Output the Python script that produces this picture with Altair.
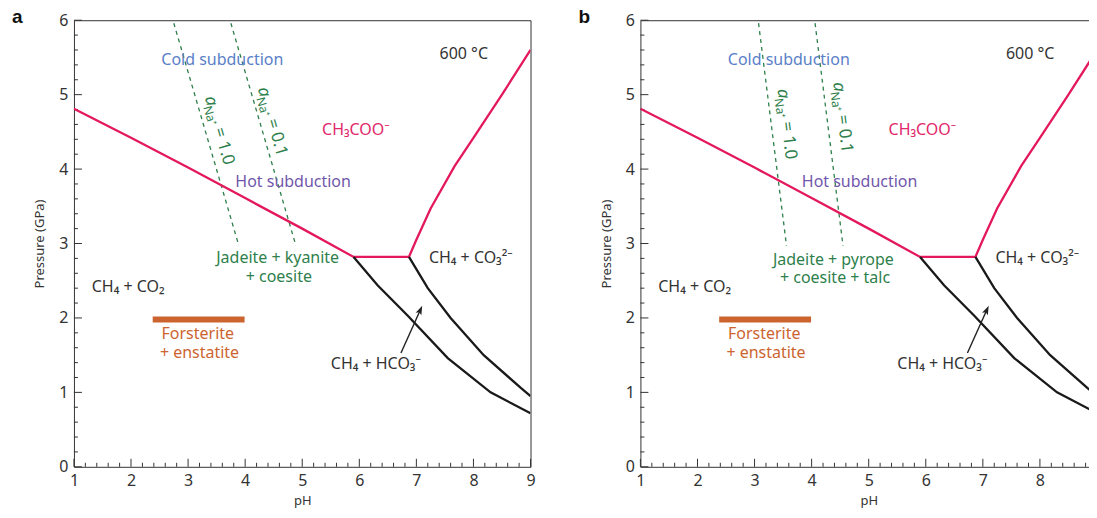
import altair as alt
import pandas as pd

FONT = "Noto Sans"
INK = "#333333"
RED = "#e3195c"
RED_TXT = "#e0286a"
GREEN = "#2e7f4c"
ORANGE = "#cc6430"
BLUE = "#5a80c8"
PURPLE = "#7157ab"
W, H = 457, 447

# ---------------- data ----------------
# red boundary of the CH3COO- field (continuous path)
red_ph = [1.0, 2.0, 3.0, 4.0, 5.0, 5.9, 6.87, 7.0, 7.25, 7.67, 8.0, 8.5, 9.0]
red_p = [4.81, 4.42, 4.02, 3.61, 3.20, 2.82, 2.82, 3.05, 3.47, 4.04, 4.42, 5.0, 5.6]
# black boundaries of the CH4 + HCO3- field
blk1_ph = [5.9, 6.32, 6.85, 7.55, 8.3, 9.0]
blk1_p = [2.82, 2.44, 2.03, 1.46, 1.0, 0.72]
blk2_ph = [6.87, 7.2, 7.6, 8.18, 8.83, 9.0]
blk2_p = [2.82, 2.4, 2.0, 1.5, 1.06, 0.95]
# forsterite + enstatite bar
fo_ph = [2.38, 3.99]
fo_p = 1.98
# arrow pointing into the CH4 + HCO3- field
arrow_ph = [6.73, 7.065]
arrow_p = [1.53, 2.10]
arrow_head = (7.065, 2.10)
# dashed a_Na+ isopleths (top, bottom) for each panel
dash_p = [5.96, 2.97]
dash_ph = {
    "a": {"1.0": [2.75, 3.89], "0.1": [3.75, 4.89]},
    "b": {"1.0": [3.07, 3.56], "0.1": [4.06, 4.55]},
}
# isopleth label anchors (pH, P) and rotation per panel
iso_lab = {
    "a": {"1.0": (3.29, 4.96), "0.1": (4.22, 5.08)},
    "b": {"1.0": (3.40, 5.07), "0.1": (4.38, 5.16)},
}
iso_angle = {"a": 74, "b": 83}
# mineral assemblage text per panel
minerals = {
    "a": [("Jadeite + kyanite", 4.57, 2.80), ("+ coesite", 4.59, 2.55)],
    "b": [("Jadeite + pyrope", 4.38, 2.78), ("+ coesite + talc", 4.41, 2.53)],
}
# common field labels: (text, pH, P, colour)
common = [
    ("Cold subduction", 3.60, 5.47, BLUE),
    ("Hot subduction", 4.84, 3.83, PURPLE),
    ("CH\u2083COO\u207b", 5.94, 4.52, RED_TXT),
    ("600 \u00b0C", 7.83, 5.54, INK),
    ("CH\u2084 + CO\u2082", 1.95, 2.42, INK),
    ("Forsterite", 3.17, 1.78, ORANGE),
    ("+ enstatite", 3.20, 1.53, ORANGE),
    ("CH\u2084 + HCO\u2083\u207b", 6.29, 1.38, INK),
]
co3_label = ("CH\u2084 + CO\u2083\u00b2\u207b", 7.22, 2.81)

x_major = [1, 2, 3, 4, 5, 6, 7, 8, 9]
y_major = [0, 1, 2, 3, 4, 5, 6]
x_minor = [round(1 + 0.2 * i, 1) for i in range(41) if i % 5]
y_minor = [round(0.2 * i, 1) for i in range(31) if i % 5]

# ---------------- encodings ----------------
XS = alt.Scale(domain=[1, 9], nice=False, zero=False)
YS = alt.Scale(domain=[0, 6], nice=False, zero=False)
XAX = alt.Axis(values=x_major, format="d", ticks=False, domain=False, grid=False,
               labelPadding=6, titlePadding=6, labelFlush=False)
YAX = alt.Axis(values=y_major, format="d", ticks=False, domain=False, grid=False,
               labelPadding=6, titlePadding=12, labelFlush=False)
X = alt.X("ph:Q", scale=XS, axis=XAX, title="pH")
Y = alt.Y("p:Q", scale=YS, axis=YAX, title="Pressure (GPa)")


def line(ph, p, color, width, dash=None):
    df = pd.DataFrame({"ph": ph, "p": p, "i": list(range(len(ph)))})
    kw = dict(color=color, strokeWidth=width, clip=True, strokeJoin="miter")
    if dash:
        kw["strokeDash"] = dash
    return alt.Chart(df).mark_line(**kw).encode(x=X, y=Y, order="i:Q")


def text(s, ph, p, color, size=16, align="center", **kw):
    df = pd.DataFrame({"ph": [ph], "p": [p], "t": [s]})
    return alt.Chart(df).mark_text(font=FONT, fontSize=size, color=color, align=align,
                                   baseline="middle", **kw).encode(x=X, y=Y, text="t:N")


def ticks_x(vals, length):
    df = pd.DataFrame({"ph": vals})
    return alt.Chart(df).mark_rule(color=INK, strokeWidth=1).encode(
        x=X, y=alt.value(H), y2=alt.value(H - length))


def ticks_y(vals, length):
    df = pd.DataFrame({"p": vals})
    return alt.Chart(df).mark_rule(color=INK, strokeWidth=1).encode(
        y=Y, x=alt.value(0), x2=alt.value(length))


def iso_label(ph, p, angle, value):
    df = pd.DataFrame({"ph": [ph], "p": [p]})
    base = dict(font=FONT, color=GREEN, align="left", baseline="alphabetic", angle=angle)
    a = alt.Chart(df).mark_text(fontSize=17, fontStyle="italic", text="a", **base).encode(x=X, y=Y)
    na = alt.Chart(df).mark_text(fontSize=12, text="Na\u207a", dx=9, dy=4, **base).encode(x=X, y=Y)
    eq = alt.Chart(df).mark_text(fontSize=17, text="= " + value, dx=33, dy=0, **base).encode(x=X, y=Y)
    return [a, na, eq]


def panel(tag):
    layers = [ticks_x(x_minor, 4), ticks_x(x_major, 8), ticks_y(y_minor, 4), ticks_y(y_major, 8)]
    for key in ["1.0", "0.1"]:
        layers.append(line(dash_ph[tag][key], dash_p, GREEN, 1.3, dash=[4, 4]))
    layers.append(line(red_ph, red_p, RED, 2.3))
    layers.append(line(blk1_ph, blk1_p, "#1a1a1a", 2.3))
    layers.append(line(blk2_ph, blk2_p, "#1a1a1a", 2.3))
    fo = pd.DataFrame({"ph": [fo_ph[0]], "ph2": [fo_ph[1]], "p": [fo_p]})
    layers.append(alt.Chart(fo).mark_rule(color=ORANGE, strokeWidth=6).encode(
        x=X, x2="ph2:Q", y=Y))
    layers.append(line(arrow_ph, arrow_p, "#222222", 1.4))
    ah = pd.DataFrame({"ph": [arrow_head[0]], "p": [arrow_head[1]]})
    layers.append(alt.Chart(ah).mark_point(
        shape="M0,-1L0.6,0.75L0,0.35L-0.6,0.75Z", filled=True, size=110, angle=24,
        color="#222222", opacity=1, strokeWidth=0).encode(x=X, y=Y))
    for s, ph, p, c in common:
        layers.append(text(s, ph, p, c))
    layers.append(text(co3_label[0], co3_label[1], co3_label[2], INK, align="left"))
    for s, ph, p in minerals[tag]:
        layers.append(text(s, ph, p, GREEN))
    for key in ["1.0", "0.1"]:
        ph, p = iso_lab[tag][key]
        layers.extend(iso_label(ph, p, iso_angle[tag], key))
    tagdf = pd.DataFrame({"t": [tag]})
    layers.append(alt.Chart(tagdf).mark_text(
        font="Liberation Sans", fontWeight="bold", fontSize=19, color="#111111",
        align="left", baseline="middle").encode(
        x=alt.value(-62), y=alt.value(-3), text="t:N"))
    return alt.layer(*layers).properties(width=W, height=H)


chart = alt.hconcat(panel("a"), panel("b"), spacing=41).properties(
    padding={"left": 3, "top": -1, "right": -14, "bottom": -1}
).configure_view(stroke=INK, strokeWidth=1).configure_axis(
    labelFont=FONT, labelFontSize=16, labelColor=INK,
    titleFont=FONT, titleFontSize=13, titleColor=INK, titleFontWeight="normal",
)

chart.save("out.html", embed_options={"renderer": "svg", "actions": False})
